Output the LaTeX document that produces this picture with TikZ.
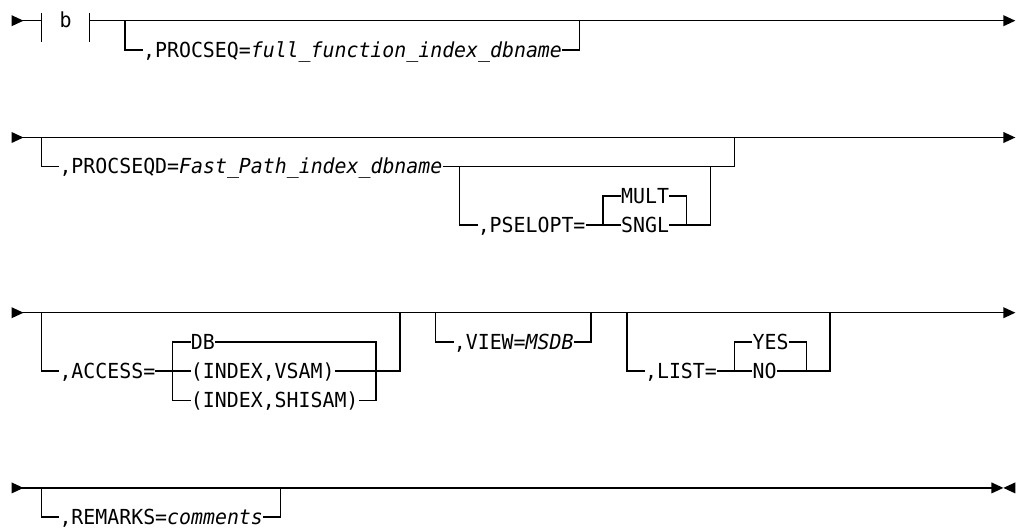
\documentclass[tikz,border=0pt]{standalone}
\usepackage{fontspec}
\newfontfamily\railfont{DejaVu Sans Mono}[FakeStretch=0.96]
\newcommand\railtype{\railfont\fontsize{20.7pt}{24pt}\selectfont}

\begin{document}
\begin{tikzpicture}[x=11.95pt, y=-29.2pt,
    rail/.style={line width=1.3pt},
    tok/.style={anchor=west, inner sep=0pt, text height=15.8pt, text depth=1.4pt, font=\railtype},
    pics/fwd/.style={code={\fill (-0.5,-0.19) -- (0.5,0) -- (-0.5,0.19) -- cycle;}},
    pics/bwd/.style={code={\fill (0.5,-0.19) -- (-0.5,0) -- (0.5,0.19) -- cycle;}}]
    \useasboundingbox (-1.464,-0.709) rectangle (83.64,17.40);

    % first line
    \coordinate (in1) at (0,0);
    \coordinate (out1) at (83,0);
    \coordinate (bar1) at (2,0);
    \coordinate (bar2) at (6,0);
    \coordinate (j1) at (9,0);
    \coordinate (k1) at (47,0);
    \node[tok] (frag) at (3.5,0) {b};
    \node[tok] (procseq) at (10.5,1) {,PROCSEQ=\textit{full\_function\_index\_dbname}};
    \draw[rail] (in1) -- (bar1);
    \draw[rail] ([yshift=8pt]bar1) -- ([yshift=-21.2pt]bar1);
    \draw[rail] ([yshift=8pt]bar2) -- ([yshift=-21.2pt]bar2);
    \draw[rail] (bar2) -- (out1);
    \draw[rail] (j1) |- (procseq.west);
    \draw[rail] (procseq.east) -| (k1);
    \pic at (in1) {fwd};
    \pic at (out1) {fwd};

    % second line
    \coordinate (in2) at (0,4);
    \coordinate (out2) at (83,4);
    \coordinate (j2) at (2,4);
    \coordinate (k2) at (60,4);
    \coordinate (j3) at (37,5);
    \coordinate (k3) at (58,5);
    \coordinate (l3) at (49,7);
    \coordinate (m3) at (56,7);
    \node[tok] (procseqd) at (3.5,5) {,PROCSEQD=\textit{Fast\_Path\_index\_dbname}};
    \node[tok] (pselopt) at (38.5,7) {,PSELOPT=};
    \node[tok] (mult) at (50.5,6) {MULT};
    \node[tok] (sngl) at (50.5,7) {SNGL};
    \draw[rail] (in2) -- (out2);
    \draw[rail] (j2) |- (procseqd.west);
    \draw[rail] (procseqd.east) -| (k2);
    \draw[rail] (j3) |- (pselopt.west);
    \draw[rail] (pselopt.east) -- (sngl.west);
    \draw[rail] (sngl.east) -| (k3);
    \draw[rail] (l3) |- (mult.west);
    \draw[rail] (mult.east) -| (m3);
    \pic at (in2) {fwd};
    \pic at (out2) {fwd};

    % third line
    \coordinate (in3) at (0,10);
    \coordinate (out3) at (83,10);
    \coordinate (j4) at (2,10);
    \coordinate (k4) at (32,10);
    \coordinate (l4) at (13,12);
    \coordinate (m4) at (30,12);
    \coordinate (j5) at (35,10);
    \coordinate (k5) at (48,10);
    \coordinate (j6) at (51,10);
    \coordinate (k6) at (68,10);
    \coordinate (l6) at (60,12);
    \coordinate (m6) at (66,12);
    \node[tok] (access) at (3.5,12) {,ACCESS=};
    \node[tok] (db) at (14.5,11) {DB};
    \node[tok] (vsam) at (14.5,12) {(INDEX,VSAM)};
    \node[tok] (shisam) at (14.5,13) {(INDEX,SHISAM)};
    \node[tok] (view) at (36.5,11) {,VIEW=\textit{MSDB}};
    \node[tok] (list) at (52.5,12) {,LIST=};
    \node[tok] (yes) at (61.5,11) {YES};
    \node[tok] (no) at (61.5,12) {NO};
    \draw[rail] (in3) -- (out3);
    \draw[rail] (j4) |- (access.west);
    \draw[rail] (access.east) -- (vsam.west);
    \draw[rail] (vsam.east) -| (k4);
    \draw[rail] (db.west) -| (l4) |- (shisam.west);
    \draw[rail] (db.east) -| (m4) |- (shisam.east);
    \draw[rail] (j5) |- (view.west);
    \draw[rail] (view.east) -| (k5);
    \draw[rail] (j6) |- (list.west);
    \draw[rail] (list.east) -- (no.west);
    \draw[rail] (no.east) -| (k6);
    \draw[rail] (l6) |- (yes.west);
    \draw[rail] (yes.east) -| (m6);
    \pic at (in3) {fwd};
    \pic at (out3) {fwd};

    % last line
    \coordinate (in4) at (0,16);
    \coordinate (stop4) at (82,16);
    \coordinate (out4) at (83,16);
    \coordinate (j7) at (2,16);
    \coordinate (k7) at (22,16);
    \node[tok] (remarks) at (3.5,17) {,REMARKS=\textit{comments}};
    \draw[rail] (in4) -- (stop4);
    \draw[rail] (j7) |- (remarks.west);
    \draw[rail] (remarks.east) -| (k7);
    \draw[rail, line width=1.8pt] ([yshift=0.3pt]22.5,16) -- ([yshift=0.3pt]24.5,16);
    \pic at (in4) {fwd};
    \pic at (stop4) {fwd};
    \pic at (out4) {bwd};
\end{tikzpicture}
\end{document}
